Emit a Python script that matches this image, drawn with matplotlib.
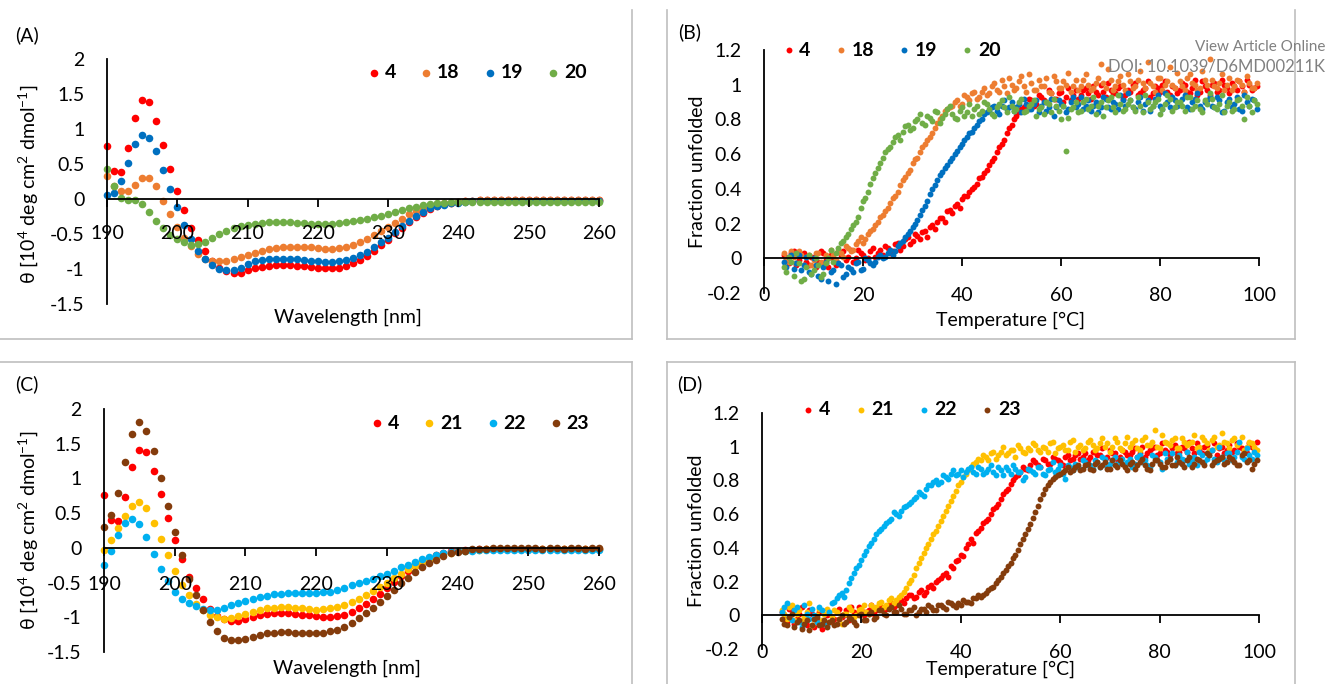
import numpy as np
import matplotlib
matplotlib.use('Agg')
import matplotlib.pyplot as plt
from matplotlib.lines import Line2D

plt.rcParams['font.family'] = ['Lato', 'DejaVu Sans']
plt.rcParams['mathtext.default'] = 'regular'
plt.rcParams['axes.unicode_minus'] = False

# ---------------- CD spectra (190-260 nm, 1 nm steps) ----------------
wavelength = list(range(190, 261))

cd_4 = [0.76, 0.40, 0.39, 0.73, 1.16, 1.41, 1.38, 1.11, 0.77, 0.43,
        0.11, -0.16, -0.42, -0.58, -0.74, -0.88, -0.98, -1.03, -1.06, -1.05,
        -1.02, -0.99, -0.97, -0.95, -0.94, -0.94, -0.94, -0.95, -0.96, -0.97,
        -0.98, -0.99, -0.99, -0.98, -0.96, -0.92, -0.87, -0.81, -0.74, -0.66,
        -0.58, -0.49, -0.41, -0.33, -0.26, -0.20, -0.14, -0.10, -0.07, -0.05,
        -0.04, -0.03, -0.03, -0.02, -0.02, -0.02, -0.02, -0.02, -0.02, -0.02,
        -0.02, -0.02, -0.01, -0.02, -0.02, -0.01, -0.02, -0.02, -0.01, -0.02, -0.01]
cd_18 = [0.33, 0.18, 0.11, 0.11, 0.20, 0.30, 0.30, 0.18, -0.03, -0.21,
         -0.40, -0.55, -0.67, -0.78, -0.86, -0.88, -0.89, -0.88, -0.86, -0.83,
         -0.80, -0.77, -0.74, -0.72, -0.70, -0.69, -0.68, -0.68, -0.68, -0.69,
         -0.70, -0.71, -0.71, -0.70, -0.68, -0.65, -0.61, -0.57, -0.51, -0.46,
         -0.40, -0.34, -0.28, -0.22, -0.17, -0.13, -0.10, -0.08, -0.06, -0.05,
         -0.04, -0.03, -0.03, -0.02, -0.02, -0.01, -0.01, -0.01, -0.01, -0.01,
         -0.01, -0.01, -0.01, -0.01, -0.01, -0.01, -0.01, -0.01, -0.01, -0.01, -0.01]
cd_19 = [0.06, 0.09, 0.26, 0.52, 0.79, 0.91, 0.87, 0.68, 0.42, 0.15,
         -0.12, -0.37, -0.57, -0.74, -0.86, -0.94, -1.00, -1.02, -1.01, -0.98,
         -0.93, -0.89, -0.87, -0.86, -0.85, -0.85, -0.85, -0.86, -0.87, -0.88,
         -0.89, -0.90, -0.90, -0.89, -0.87, -0.84, -0.80, -0.75, -0.69, -0.62,
         -0.55, -0.47, -0.39, -0.31, -0.24, -0.18, -0.13, -0.10, -0.08, -0.06,
         -0.05, -0.04, -0.03, -0.03, -0.03, -0.03, -0.03, -0.03, -0.03, -0.03,
         -0.03, -0.03, -0.03, -0.03, -0.03, -0.03, -0.03, -0.03, -0.03, -0.03, -0.03]
cd_20 = [0.43, 0.19, 0.01, -0.01, -0.02, -0.07, -0.18, -0.31, -0.42, -0.51,
         -0.57, -0.62, -0.65, -0.64, -0.61, -0.56, -0.50, -0.46, -0.42, -0.39,
         -0.37, -0.35, -0.34, -0.33, -0.33, -0.33, -0.33, -0.34, -0.34, -0.35,
         -0.35, -0.35, -0.35, -0.34, -0.33, -0.32, -0.30, -0.28, -0.26, -0.24,
         -0.22, -0.19, -0.16, -0.13, -0.11, -0.09, -0.07, -0.06, -0.05, -0.04,
         -0.04, -0.04, -0.04, -0.04, -0.04, -0.04, -0.04, -0.04, -0.04, -0.04,
         -0.04, -0.04, -0.04, -0.04, -0.04, -0.04, -0.04, -0.04, -0.04, -0.04, -0.04]
cd_21 = [-0.03, 0.11, 0.29, 0.46, 0.61, 0.66, 0.57, 0.36, 0.13, -0.11,
         -0.33, -0.54, -0.68, -0.81, -0.90, -0.96, -1.00, -1.02, -1.01, -0.98,
         -0.95, -0.92, -0.89, -0.87, -0.86, -0.85, -0.85, -0.86, -0.87, -0.88,
         -0.89, -0.88, -0.87, -0.85, -0.82, -0.78, -0.73, -0.68, -0.62, -0.56,
         -0.50, -0.44, -0.37, -0.31, -0.26, -0.21, -0.16, -0.12, -0.09, -0.07,
         -0.05, -0.04, -0.03, -0.03, -0.02, -0.02, -0.02, -0.02, -0.02, -0.02,
         -0.02, -0.02, -0.02, -0.02, -0.02, -0.02, -0.02, -0.02, -0.02, -0.02, -0.02]
cd_22 = [-0.25, -0.04, 0.18, 0.36, 0.42, 0.34, 0.15, -0.09, -0.30, -0.48,
         -0.63, -0.73, -0.79, -0.84, -0.88, -0.90, -0.89, -0.86, -0.83, -0.79,
         -0.76, -0.73, -0.71, -0.69, -0.67, -0.66, -0.65, -0.65, -0.65, -0.65,
         -0.65, -0.64, -0.63, -0.61, -0.58, -0.54, -0.51, -0.48, -0.45, -0.41,
         -0.37, -0.33, -0.28, -0.24, -0.20, -0.16, -0.13, -0.10, -0.08, -0.06,
         -0.05, -0.04, -0.04, -0.03, -0.03, -0.03, -0.03, -0.03, -0.03, -0.03,
         -0.03, -0.03, -0.03, -0.03, -0.03, -0.03, -0.03, -0.03, -0.03, -0.03, -0.03]
cd_23 = [0.30, 0.48, 0.79, 1.24, 1.64, 1.81, 1.69, 1.39, 1.00, 0.61,
         0.23, -0.11, -0.45, -0.68, -0.90, -1.07, -1.20, -1.30, -1.33, -1.33,
         -1.31, -1.28, -1.25, -1.23, -1.22, -1.21, -1.21, -1.22, -1.22, -1.23,
         -1.23, -1.22, -1.20, -1.18, -1.14, -1.08, -1.01, -0.94, -0.86, -0.78,
         -0.69, -0.60, -0.51, -0.43, -0.35, -0.28, -0.22, -0.17, -0.12, -0.08,
         -0.06, -0.04, -0.02, -0.01, -0.01, 0.00, 0.00, 0.00, 0.00, 0.00,
         0.00, 0.00, -0.01, 0.00, 0.00, -0.01, 0.00, 0.00, -0.01, 0.00, 0.00]

# ---------------- thermal melts ----------------
# readings at whole degrees (4-99 C) and at the half degrees in between (4.5-99.5 C)
temperature = list(range(4, 100))
temperature_half = [t + 0.5 for t in temperature]

melt_b_4 = [0.02, -0.03, 0.04, -0.01, 0.03, -0.04, 0.01, -0.02, 0.03, -0.05,
            0.00, -0.03, 0.04, 0.01, -0.02, 0.05, 0.02, 0.00, 0.06, 0.03,
            0.02, 0.06, 0.04, 0.09, 0.07, 0.12, 0.10, 0.13, 0.15, 0.12,
            0.19, 0.21, 0.23, 0.27, 0.26, 0.31, 0.34, 0.36, 0.40, 0.43,
            0.47, 0.51, 0.56, 0.61, 0.66, 0.72, 0.77, 0.82, 0.86, 0.88,
            0.91, 0.89, 0.93, 0.90, 0.95, 0.92, 0.96, 0.93, 0.91, 0.97,
            0.94, 0.98, 0.92, 0.96, 1.00, 0.93, 0.97, 0.95, 0.99, 0.94,
            0.96, 1.01, 0.95, 0.98, 0.93, 0.99, 0.96, 1.02, 0.94, 0.98,
            0.97, 1.00, 0.95, 1.03, 0.96, 0.99, 0.94, 1.01, 0.97, 1.00,
            0.95, 0.99, 1.02, 0.96, 1.00, 0.98]
melt_b_4_half = [-0.01, 0.03, -0.04, 0.02, -0.02, 0.01, -0.05, 0.04, -0.01, 0.02,
                 -0.04, 0.02, -0.01, 0.05, 0.00, 0.03, -0.01, 0.04, 0.01, 0.05,
                 0.07, 0.03, 0.08, 0.05, 0.11, 0.08, 0.14, 0.11, 0.16, 0.18,
                 0.17, 0.23, 0.21, 0.28, 0.30, 0.29, 0.36, 0.38, 0.41, 0.46,
                 0.49, 0.54, 0.58, 0.64, 0.68, 0.75, 0.80, 0.84, 0.87, 0.92,
                 0.88, 0.94, 0.91, 0.97, 0.92, 0.95, 0.90, 0.98, 0.94, 0.92,
                 0.97, 0.95, 0.99, 0.94, 0.96, 1.01, 0.95, 0.98, 0.92, 0.97,
                 1.00, 0.94, 0.97, 1.02, 0.95, 0.98, 1.00, 0.96, 0.99, 0.95,
                 1.01, 0.96, 0.98, 0.94, 1.02, 0.97, 1.00, 0.96, 1.03, 0.98,
                 1.01, 0.97, 0.99, 1.03, 0.97, 0.99]
melt_b_18 = [0.03, -0.02, 0.01, 0.04, -0.04, 0.02, -0.01, 0.03, -0.03, 0.00,
             0.02, 0.04, 0.01, 0.06, 0.05, 0.10, 0.09, 0.14, 0.17, 0.21,
             0.25, 0.29, 0.35, 0.38, 0.45, 0.49, 0.55, 0.58, 0.64, 0.68,
             0.72, 0.78, 0.82, 0.86, 0.88, 0.91, 0.89, 0.93, 0.95, 0.92,
             0.96, 0.94, 0.99, 0.97, 1.03, 0.95, 1.00, 0.98, 1.05, 0.96,
             1.01, 0.97, 0.99, 1.04, 0.95, 1.02, 0.98, 1.00, 0.96, 1.03,
             0.99, 1.06, 0.97, 1.01, 1.12, 0.98, 1.03, 0.99, 1.05, 0.97,
             1.02, 0.99, 1.08, 0.98, 1.01, 0.96, 1.04, 1.00, 1.10, 0.98,
             1.02, 0.97, 1.06, 1.00, 0.98, 1.03, 1.15, 0.99, 1.01, 0.97,
             1.04, 0.99, 1.02, 0.96, 1.01, 0.98]
melt_b_18_half = [0.00, 0.04, -0.03, 0.02, 0.01, -0.04, 0.03, -0.02, 0.02, 0.05,
                  -0.01, 0.03, 0.07, 0.04, 0.08, 0.12, 0.11, 0.16, 0.19, 0.24,
                  0.27, 0.32, 0.36, 0.42, 0.47, 0.51, 0.57, 0.61, 0.66, 0.70,
                  0.75, 0.80, 0.85, 0.87, 0.90, 0.88, 0.94, 0.91, 0.96, 0.93,
                  0.98, 0.95, 1.01, 0.96, 0.99, 1.04, 0.97, 1.02, 0.99, 1.06,
                  0.97, 1.03, 0.99, 0.96, 1.05, 0.98, 1.02, 1.07, 0.99, 0.97,
                  1.03, 1.00, 0.98, 1.04, 1.01, 1.09, 0.97, 1.02, 1.00, 1.06,
                  0.98, 1.03, 1.01, 1.13, 0.99, 1.04, 0.97, 1.02, 1.00, 1.07,
                  0.99, 1.04, 1.01, 0.97, 1.08, 1.00, 1.03, 0.98, 1.06, 1.00,
                  0.97, 1.03, 1.00, 1.05, 0.98, 1.01]
melt_b_19 = [-0.02, 0.01, -0.06, 0.02, -0.04, -0.08, 0.00, -0.10, -0.05, -0.13,
             -0.07, -0.03, -0.11, -0.05, -0.08, -0.02, -0.06, -0.01, -0.04, 0.01,
             0.00, 0.03, 0.02, 0.07, 0.10, 0.14, 0.18, 0.22, 0.28, 0.33,
             0.40, 0.45, 0.50, 0.54, 0.58, 0.62, 0.66, 0.70, 0.73, 0.77,
             0.80, 0.84, 0.87, 0.85, 0.88, 0.86, 0.90, 0.87, 0.84, 0.89,
             0.86, 0.91, 0.88, 0.85, 0.92, 0.87, 0.89, 0.84, 0.90, 0.87,
             0.93, 0.88, 0.85, 0.90, 0.87, 0.92, 0.86, 0.89, 0.94, 0.88,
             0.91, 0.86, 0.93, 0.89, 0.85, 0.92, 0.88, 0.95, 0.87, 0.91,
             0.89, 0.94, 0.86, 0.92, 0.88, 0.90, 0.93, 0.87, 0.91, 0.85,
             0.92, 0.89, 0.86, 0.94, 0.88, 0.91]
melt_b_19_half = [-0.05, 0.02, -0.03, -0.07, 0.01, -0.09, -0.04, -0.12, -0.02, -0.08,
                  -0.15, -0.04, -0.09, -0.06, -0.03, -0.07, 0.00, -0.03, -0.02, 0.02,
                  0.01, 0.05, 0.04, 0.09, 0.12, 0.16, 0.20, 0.25, 0.30, 0.37,
                  0.42, 0.48, 0.52, 0.56, 0.60, 0.64, 0.68, 0.72, 0.75, 0.79,
                  0.83, 0.85, 0.88, 0.83, 0.91, 0.87, 0.85, 0.89, 0.92, 0.86,
                  0.89, 0.84, 0.90, 0.87, 0.82, 0.91, 0.88, 0.86, 0.93, 0.89,
                  0.86, 0.91, 0.88, 0.84, 0.93, 0.87, 0.90, 0.86, 0.91, 0.95,
                  0.87, 0.90, 0.85, 0.91, 0.88, 0.94, 0.86, 0.90, 0.93, 0.88,
                  0.92, 0.87, 0.90, 0.95, 0.86, 0.91, 0.88, 0.93, 0.84, 0.90,
                  0.87, 0.93, 0.85, 0.90, 0.92, 0.86]
melt_b_20 = [-0.05, 0.01, -0.10, -0.03, -0.12, 0.02, -0.07, -0.04, -0.09, 0.00,
             -0.02, 0.06, 0.10, 0.14, 0.19, 0.24, 0.33, 0.38, 0.46, 0.52,
             0.58, 0.63, 0.67, 0.71, 0.73, 0.77, 0.75, 0.80, 0.78, 0.82,
             0.79, 0.84, 0.81, 0.86, 0.83, 0.80, 0.87, 0.84, 0.82, 0.88,
             0.85, 0.89, 0.83, 0.87, 0.91, 0.84, 0.88, 0.86, 0.92, 0.85,
             0.89, 0.82, 0.87, 0.90, 0.84, 0.88, 0.80, 0.62, 0.86, 0.90,
             0.85, 0.92, 0.88, 0.83, 0.90, 0.87, 0.93, 0.84, 0.89, 0.86,
             0.91, 0.85, 0.88, 0.94, 0.86, 0.90, 0.83, 0.89, 0.92, 0.87,
             0.90, 0.85, 0.93, 0.88, 0.86, 0.91, 0.95, 0.87, 0.89, 0.84,
             0.90, 0.86, 0.92, 0.80, 0.88, 0.91]
melt_b_20_half = [-0.08, -0.02, 0.03, -0.13, -0.05, -0.09, 0.00, -0.11, -0.03, 0.05,
                  0.03, 0.09, 0.12, 0.17, 0.21, 0.29, 0.35, 0.43, 0.49, 0.55,
                  0.61, 0.64, 0.70, 0.68, 0.76, 0.74, 0.79, 0.83, 0.77, 0.81,
                  0.85, 0.78, 0.83, 0.88, 0.81, 0.85, 0.82, 0.89, 0.86, 0.83,
                  0.90, 0.86, 0.82, 0.89, 0.87, 0.93, 0.85, 0.90, 0.84, 0.88,
                  0.91, 0.86, 0.83, 0.89, 0.92, 0.85, 0.88, 0.81, 0.87, 0.84,
                  0.90, 0.86, 0.93, 0.88, 0.82, 0.91, 0.87, 0.94, 0.85, 0.89,
                  0.87, 0.93, 0.84, 0.90, 0.88, 0.92, 0.86, 0.94, 0.85, 0.90,
                  0.88, 0.93, 0.86, 0.91, 0.84, 0.89, 0.92, 0.86, 0.94, 0.88,
                  0.85, 0.91, 0.88, 0.93, 0.84, 0.89]

melt_d_4 = [0.02, -0.04, 0.03, -0.02, 0.05, -0.06, 0.01, -0.03, -0.08, 0.00,
            -0.04, 0.02, -0.01, 0.03, 0.05, 0.01, 0.04, 0.02, 0.06, 0.03,
            0.05, 0.04, 0.07, 0.06, 0.09, 0.10, 0.12, 0.11, 0.15, 0.14,
            0.18, 0.20, 0.22, 0.25, 0.29, 0.32, 0.36, 0.40, 0.45, 0.49,
            0.52, 0.56, 0.60, 0.64, 0.69, 0.74, 0.78, 0.82, 0.85, 0.87,
            0.89, 0.91, 0.88, 0.92, 0.90, 0.93, 0.91, 0.94, 0.92, 0.95,
            0.93, 0.96, 0.94, 0.97, 0.95, 0.93, 0.98, 0.96, 0.94, 0.97,
            0.95, 0.99, 0.96, 0.94, 0.98, 1.00, 0.96, 0.98, 0.95, 1.01,
            0.97, 0.99, 1.03, 0.96, 0.98, 1.00, 0.97, 1.02, 0.99, 0.96,
            1.01, 0.98, 1.00, 0.97, 1.02, 0.99]
melt_d_4_half = [-0.02, 0.04, -0.05, 0.01, -0.03, 0.03, -0.07, 0.02, -0.04, 0.01,
                 -0.02, 0.04, 0.00, -0.03, 0.02, 0.05, 0.00, 0.03, 0.01, 0.05,
                 0.03, 0.06, 0.05, 0.09, 0.07, 0.12, 0.10, 0.14, 0.12, 0.17,
                 0.16, 0.21, 0.24, 0.23, 0.28, 0.33, 0.35, 0.42, 0.43, 0.50,
                 0.55, 0.57, 0.63, 0.66, 0.72, 0.75, 0.80, 0.83, 0.88, 0.86,
                 0.92, 0.89, 0.93, 0.90, 0.94, 0.92, 0.89, 0.95, 0.93, 0.96,
                 0.94, 0.92, 0.97, 0.95, 0.99, 0.94, 0.96, 0.93, 0.98, 0.95,
                 0.97, 0.94, 1.00, 0.96, 0.99, 0.95, 1.02, 0.97, 0.99, 0.96,
                 1.00, 0.97, 0.99, 1.02, 0.96, 1.01, 0.98, 0.95, 1.00, 0.98,
                 0.97, 1.02, 0.99, 0.96, 1.00, 1.03]
melt_d_21 = [0.03, -0.02, 0.06, 0.01, -0.04, 0.02, -0.06, 0.00, -0.03, 0.04,
             -0.01, 0.02, -0.05, 0.01, 0.03, 0.00, 0.04, 0.02, 0.06, 0.05,
             0.08, 0.06, 0.10, 0.09, 0.12, 0.16, 0.21, 0.28, 0.34, 0.40,
             0.45, 0.50, 0.56, 0.62, 0.68, 0.74, 0.79, 0.84, 0.88, 0.91,
             0.92, 0.94, 0.96, 0.93, 0.97, 0.95, 0.98, 0.94, 0.99, 0.96,
             0.98, 1.01, 0.97, 0.99, 1.02, 0.96, 1.00, 0.98, 1.03, 0.97,
             1.01, 0.99, 1.04, 0.98, 1.02, 1.00, 0.97, 1.05, 0.99, 1.02,
             1.00, 1.04, 0.98, 1.06, 1.01, 1.10, 0.99, 1.03, 1.01, 1.05,
             0.99, 1.03, 1.02, 1.07, 1.00, 1.04, 0.98, 1.06, 1.01, 1.03,
             0.99, 1.05, 1.02, 0.98, 1.03, 1.00]
melt_d_21_half = [0.01, 0.05, -0.03, 0.03, -0.01, 0.07, -0.02, 0.04, 0.01, -0.04,
                  0.03, -0.02, 0.01, 0.05, -0.01, 0.03, 0.06, 0.01, 0.04, 0.07,
                  0.05, 0.09, 0.07, 0.11, 0.14, 0.19, 0.24, 0.31, 0.37, 0.42,
                  0.48, 0.53, 0.59, 0.65, 0.71, 0.77, 0.82, 0.86, 0.90, 0.93,
                  0.95, 0.92, 0.97, 0.95, 1.00, 0.96, 0.98, 1.01, 0.97, 0.99,
                  1.02, 0.98, 1.00, 0.97, 1.03, 0.99, 1.01, 0.98, 1.04, 1.00,
                  0.98, 1.03, 1.01, 0.99, 1.05, 1.02, 1.00, 1.03, 0.98, 1.06,
                  1.02, 0.99, 1.04, 1.01, 1.03, 1.00, 1.07, 1.02, 1.04, 0.99,
                  1.05, 1.01, 1.03, 0.99, 1.06, 1.02, 1.04, 1.00, 1.08, 1.02,
                  1.04, 1.01, 1.06, 1.00, 1.02, 0.98]
melt_d_22 = [0.02, 0.07, -0.03, 0.05, -0.07, 0.01, 0.04, -0.04, 0.03, -0.06,
             0.07, 0.10, 0.13, 0.15, 0.22, 0.28, 0.33, 0.38, 0.43, 0.48,
             0.51, 0.55, 0.57, 0.60, 0.62, 0.65, 0.67, 0.70, 0.72, 0.75,
             0.77, 0.80, 0.79, 0.82, 0.84, 0.83, 0.86, 0.85, 0.88, 0.84,
             0.87, 0.85, 0.89, 0.83, 0.86, 0.88, 0.84, 0.87, 0.85, 0.82,
             0.86, 0.84, 0.88, 0.83, 0.87, 0.85, 0.89, 0.81, 0.88, 0.90,
             0.87, 0.91, 0.89, 0.92, 0.88, 0.93, 0.90, 0.94, 0.91, 0.89,
             0.93, 0.90, 0.95, 0.92, 0.88, 0.94, 0.91, 0.96, 0.93, 0.89,
             0.95, 0.92, 0.90, 0.94, 0.97, 0.91, 0.95, 0.93, 1.00, 0.92,
             0.96, 0.94, 1.03, 0.93, 0.95, 0.97]
melt_d_22_half = [0.05, -0.01, 0.03, -0.04, 0.06, -0.02, 0.00, 0.05, -0.05, 0.02,
                  0.08, 0.12, 0.11, 0.19, 0.25, 0.30, 0.36, 0.41, 0.45, 0.50,
                  0.53, 0.56, 0.61, 0.59, 0.64, 0.66, 0.69, 0.73, 0.71, 0.77,
                  0.79, 0.78, 0.83, 0.81, 0.86, 0.84, 0.82, 0.87, 0.85, 0.88,
                  0.84, 0.87, 0.85, 0.88, 0.83, 0.86, 0.89, 0.85, 0.80, 0.87,
                  0.85, 0.88, 0.84, 0.86, 0.91, 0.87, 0.84, 0.89, 0.86, 0.88,
                  0.92, 0.89, 0.87, 0.91, 0.94, 0.88, 0.92, 0.90, 0.93, 0.91,
                  0.88, 0.94, 0.91, 0.89, 0.95, 0.92, 0.87, 0.93, 0.96, 0.91,
                  0.93, 0.97, 0.92, 0.89, 0.95, 0.93, 0.98, 0.91, 0.94, 0.96,
                  0.92, 0.97, 0.94, 0.99, 0.93, 0.95]
melt_d_23 = [-0.02, -0.06, 0.01, -0.04, -0.08, -0.03, -0.06, -0.01, -0.05, -0.07,
             -0.03, -0.05, 0.00, -0.04, -0.02, -0.06, 0.01, -0.03, 0.02, -0.01,
             0.03, 0.00, 0.05, 0.02, 0.04, 0.01, 0.03, 0.00, 0.04, 0.02,
             0.05, 0.03, 0.06, 0.04, 0.07, 0.05, 0.06, 0.08, 0.07, 0.10,
             0.11, 0.13, 0.16, 0.19, 0.23, 0.27, 0.31, 0.36, 0.42, 0.48,
             0.54, 0.61, 0.69, 0.75, 0.79, 0.82, 0.84, 0.86, 0.85, 0.88,
             0.86, 0.89, 0.87, 0.90, 0.88, 0.91, 0.87, 0.89, 0.92, 0.88,
             0.90, 0.87, 0.91, 0.89, 0.86, 0.92, 0.90, 0.88, 0.93, 0.89,
             0.91, 0.88, 0.94, 0.90, 0.92, 0.89, 0.95, 0.91, 0.93, 0.90,
             0.94, 0.91, 0.89, 0.96, 0.92, 0.90]
melt_d_23_half = [-0.05, -0.01, -0.07, -0.03, -0.05, -0.09, -0.02, -0.06, -0.03, -0.04,
                  -0.06, -0.02, -0.05, -0.01, -0.04, 0.00, -0.03, 0.01, -0.02, 0.03,
                  0.01, 0.04, 0.02, 0.06, 0.01, 0.03, 0.05, 0.02, 0.04, 0.06,
                  0.03, 0.06, 0.05, 0.08, 0.06, 0.07, 0.09, 0.08, 0.10, 0.12,
                  0.12, 0.15, 0.17, 0.21, 0.25, 0.29, 0.34, 0.39, 0.45, 0.51,
                  0.58, 0.65, 0.72, 0.77, 0.81, 0.83, 0.85, 0.88, 0.86, 0.89,
                  0.87, 0.90, 0.86, 0.91, 0.89, 0.87, 0.92, 0.88, 0.90, 0.86,
                  0.91, 0.89, 0.93, 0.87, 0.90, 0.92, 0.88, 0.91, 0.89, 0.94,
                  0.90, 0.92, 0.88, 0.93, 0.91, 0.96, 0.89, 0.92, 0.94, 0.91,
                  0.93, 0.89, 0.95, 0.91, 0.87, 0.92]

# Excel-like colours
RED, ORANGE, BLUE, GREEN = '#FF0000', '#ED7D31', '#0070C0', '#70AD47'
GOLD, SKY, BROWN = '#FFC000', '#00B0F0', '#843C0C'

W, H = 1328, 684
fig = plt.figure(figsize=(W / 100, H / 100), dpi=100)


def add_ax(left, top, right, bottom):
    # pixel box -> figure fraction
    return fig.add_axes([left / W, 1 - bottom / H, (right - left) / W, (bottom - top) / H])


def style_axes(ax, xlim, ylim, xticks, yticks, ylabels, xpad):
    ax.set_xlim(*xlim)
    ax.set_ylim(*ylim)
    for s in ('top', 'right'):
        ax.spines[s].set_visible(False)
    ax.spines['bottom'].set_position(('data', 0))
    ax.spines['left'].set_linewidth(1.3)
    ax.spines['bottom'].set_linewidth(1.3)
    ax.set_xticks(xticks)
    ax.set_xticklabels([str(t) for t in xticks])
    ax.set_yticks(yticks)
    ax.set_yticklabels(ylabels)
    ax.tick_params(axis='x', direction='out', length=6, width=1.3, pad=xpad,
                   labelsize=14, colors='black')
    ax.tick_params(axis='y', length=0, pad=16, labelsize=14)
    # little caps at the ends of the value axis
    ax.set_yticks([ylim[0], ylim[1]], minor=True)
    ax.tick_params(axis='y', which='minor', direction='in', length=6, width=1.3)
    ax.patch.set_alpha(0)


def legend(ax, x, y):
    ax.legend(loc='center', bbox_to_anchor=(x, y), ncol=4, frameon=False,
              prop={'weight': 'bold', 'size': 14}, handletextpad=0.1,
              columnspacing=1.1, handlelength=0.9, markerscale=1.0,
              borderaxespad=0)


def melt(ax, whole, half, col, lab):
    ax.scatter(temperature + temperature_half, whole + half, s=18, color=col,
               label=lab, lw=0, clip_on=False)


cd_yt = [-1.5, -1, -0.5, 0, 0.5, 1, 1.5, 2]
cd_yl = ['-1.5', '-1', '-0.5', '0', '0.5', '1', '1.5', '2']
mt_yt = [-0.2, 0, 0.2, 0.4, 0.6, 0.8, 1.0, 1.2]
mt_yl = ['-0.2', '0', '0.2', '0.4', '0.6', '0.8', '1', '1.2']
cd_label = 'θ [10$^{4}$ deg cm$^{2}$ dmol$^{-1}$]'

# ---------------- (A) ----------------
axA = add_ax(107, 59, 599, 304)
for vals, col, lab in [(cd_4, RED, '4'), (cd_18, ORANGE, '18'),
                       (cd_19, BLUE, '19'), (cd_20, GREEN, '20')]:
    axA.scatter(wavelength, vals, s=30, color=col, label=lab, lw=0, clip_on=False)
style_axes(axA, (190, 260), (-1.5, 2), list(range(190, 261, 10)), cd_yt, cd_yl, 13)
axA.set_xlabel('Wavelength [nm]', fontsize=14)
axA.xaxis.set_label_coords(0.49, -0.02)
axA.set_ylabel(cd_label, fontsize=14)
axA.yaxis.set_label_coords(-0.137, 0.49)
legend(axA, 0.75, 0.945)

# ---------------- (B) ----------------
axB = add_ax(764, 50, 1259, 293)
melt(axB, melt_b_4, melt_b_4_half, RED, '4')
melt(axB, melt_b_18, melt_b_18_half, ORANGE, '18')
melt(axB, melt_b_19, melt_b_19_half, BLUE, '19')
melt(axB, melt_b_20, melt_b_20_half, GREEN, '20')
style_axes(axB, (0, 100), (-0.2, 1.2), list(range(0, 101, 20)), mt_yt, mt_yl, 15)
axB.set_xlabel('Temperature [°C]', fontsize=14)
axB.xaxis.set_label_coords(0.497, -0.075)
axB.set_ylabel('Fraction unfolded', fontsize=14)
axB.yaxis.set_label_coords(-0.118, 0.5)
legend(axB, 0.255, 1.0)

# ---------------- (C) ----------------
axC = add_ax(104, 409, 599, 652)
for vals, col, lab in [(cd_4, RED, '4'), (cd_21, GOLD, '21'),
                       (cd_22, SKY, '22'), (cd_23, BROWN, '23')]:
    axC.scatter(wavelength, vals, s=30, color=col, label=lab, lw=0, clip_on=False)
style_axes(axC, (190, 260), (-1.5, 2), list(range(190, 261, 10)), cd_yt, cd_yl, 14)
axC.set_xlabel('Wavelength [nm]', fontsize=14)
axC.xaxis.set_label_coords(0.49, -0.03)
axC.set_ylabel(cd_label, fontsize=14)
axC.yaxis.set_label_coords(-0.13, 0.5)
legend(axC, 0.757, 0.942)

# ---------------- (D) ----------------
axD = add_ax(762, 413, 1259, 649)
melt(axD, melt_d_4, melt_d_4_half, RED, '4')
melt(axD, melt_d_21, melt_d_21_half, GOLD, '21')
melt(axD, melt_d_22, melt_d_22_half, SKY, '22')
melt(axD, melt_d_23, melt_d_23_half, BROWN, '23')
style_axes(axD, (0, 100), (-0.2, 1.2), list(range(0, 101, 20)), mt_yt, mt_yl, 15)
axD.set_xlabel('Temperature [°C]', fontsize=14)
axD.xaxis.set_label_coords(0.48, -0.05)
axD.set_ylabel('Fraction unfolded', fontsize=14)
axD.yaxis.set_label_coords(-0.115, 0.5)
legend(axD, 0.298, 1.013)

# panel letters
for txt, x, y in [('(A)', 27, 35), ('(B)', 690, 32), ('(C)', 27, 384), ('(D)', 690, 384)]:
    fig.text(x / W, 1 - y / H, txt, fontsize=14, ha='center', va='center')

# light grey panel frames
GREY = '#BFBFBF'
frame = [((632, 10), (632, 339)), ((0, 339), (632, 339)),
         ((667, 10), (667, 339)), ((667, 339), (1295, 339)), ((1295, 10), (1295, 339)),
         ((0, 362), (632, 362)), ((632, 362), (632, 684)),
         ((667, 362), (1295, 362)), ((667, 362), (667, 684)), ((1295, 362), (1295, 684))]
for (x0, y0), (x1, y1) in frame:
    fig.add_artist(Line2D([x0 / W, x1 / W], [1 - y0 / H, 1 - y1 / H],
                          transform=fig.transFigure, color=GREY, lw=1.2))

# journal watermark
fig.text(1325 / W, 1 - 47 / H, 'View Article Online', fontsize=11, color='#808080',
         ha='right', va='center')
fig.text(1325 / W, 1 - 67 / H, 'DOI: 10.1039/D6MD00211K', fontsize=12, color='#808080',
         ha='right', va='center')

fig.savefig('out.png', dpi=100)
